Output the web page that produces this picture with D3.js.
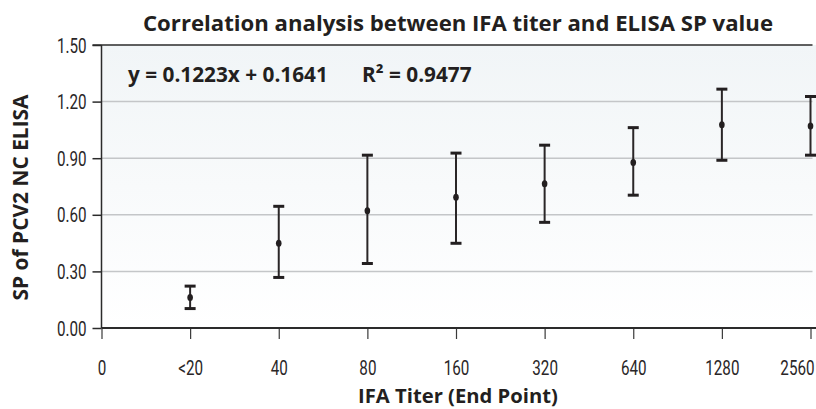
<!DOCTYPE html>
<html>
<head>
<meta charset="utf-8">
<script src="https://cdn.jsdelivr.net/npm/d3@7"></script>
<style>
  html, body { margin: 0; padding: 0; background: #ffffff; }
  svg { display: block; }
  .tick-label { font-family: "Roboto", "Liberation Sans", sans-serif; font-weight: 400; fill: #2a2627; }
  .bold { font-family: "Open Sans", "Lato", sans-serif; font-weight: 700; fill: #231f20; }
</style>
</head>
<body>
<svg id="chart" width="816" height="409"></svg>
<script>
// IFA titer groups (end point) and the ELISA S/P statistics for each group
const xTickLabels = ["0", "<20", "40", "80", "160", "320", "640", "1280", "2560"];
const titerGroups = ["<20", "40", "80", "160", "320", "640", "1280", "2560"];
const meanSP  = [0.162, 0.449, 0.622, 0.693, 0.764, 0.877, 1.077, 1.071];
const upperSP = [0.222, 0.645, 0.916, 0.927, 0.969, 1.062, 1.266, 1.227];
const lowerSP = [0.103, 0.268, 0.342, 0.449, 0.560, 0.704, 0.889, 0.916];
const yTickValues = [0, 0.3, 0.6, 0.9, 1.2, 1.5];

// linear regression summary
const slope = 0.1223;
const intercept = 0.1641;
const rSquared = 0.9477;

const svg = d3.select("#chart");
const W = 816, H = 409;
const margin = { left: 101.5, right: 5.5, top: 45, bottom: 81 };
const plotRight = W - margin.right;
const plotBottom = H - margin.bottom;

const x = d3.scaleLinear().domain([0, xTickLabels.length - 1]).range([margin.left, plotRight]);
const y = d3.scaleLinear().domain([0, 1.5]).range([plotBottom, margin.top]);

// condensed look for the tick numerals
const SX = 0.78;
const tickFont = 19.5;

// background gradient of the plotting area
const defs = svg.append("defs");
const grad = defs.append("linearGradient")
  .attr("id", "bg").attr("x1", 0).attr("y1", 0).attr("x2", 0).attr("y2", 1);
grad.append("stop").attr("offset", "0%").attr("stop-color", "#f1f5f7");
grad.append("stop").attr("offset", "100%").attr("stop-color", "#ffffff");

svg.append("rect")
  .attr("x", margin.left).attr("y", margin.top)
  .attr("width", W - margin.left).attr("height", plotBottom - margin.top)
  .attr("fill", "url(#bg)");

// horizontal grid lines
svg.append("g")
  .selectAll("line")
  .data(yTickValues.filter(v => v > 0 && v < 1.5))
  .join("line")
  .attr("x1", margin.left).attr("x2", plotRight + 2)
  .attr("y1", d => y(d)).attr("y2", d => y(d))
  .attr("stroke", "#c4c6c8").attr("stroke-width", 1.5);

// top border line at the maximum of the scale
svg.append("line")
  .attr("x1", margin.left - 9).attr("x2", plotRight + 2)
  .attr("y1", y(1.5)).attr("y2", y(1.5))
  .attr("stroke", "#2b2b2b").attr("stroke-width", 1.5);

// y axis
const yAxis = d3.axisLeft(y)
  .tickValues(yTickValues)
  .tickFormat(d3.format(".2f"))
  .tickSize(9)
  .tickPadding(6);
const yG = svg.append("g")
  .attr("transform", `translate(${margin.left},0)`)
  .call(yAxis);
yG.select(".domain").remove();
yG.selectAll(".tick line").attr("stroke", "#2b2b2b").attr("stroke-width", 1.5);
yG.selectAll(".tick text")
  .attr("class", "tick-label")
  .attr("font-size", tickFont)
  .attr("x", -15 / SX)
  .attr("dy", "0.36em")
  .attr("transform", `scale(${SX},1)`);
svg.append("line")
  .attr("x1", margin.left).attr("x2", margin.left)
  .attr("y1", y(1.5)).attr("y2", plotBottom)
  .attr("stroke", "#2b2b2b").attr("stroke-width", 1.5);

// x axis
const xAxis = d3.axisBottom(x)
  .tickValues(d3.range(xTickLabels.length))
  .tickFormat(i => xTickLabels[i])
  .tickSize(11)
  .tickPadding(22);
const xG = svg.append("g")
  .attr("transform", `translate(0,${plotBottom})`)
  .call(xAxis);
xG.select(".domain").remove();
xG.selectAll(".tick line").attr("stroke", "#3a3a3a").attr("stroke-width", 1.2);
xG.selectAll(".tick text")
  .attr("class", "tick-label")
  .attr("font-size", tickFont)
  .attr("transform", `scale(${SX},1)`);
// keep the last label inside the canvas
xG.selectAll(".tick").each(function (i) {
  const t = d3.select(this).select("text");
  const w = t.node().getComputedTextLength() * SX;
  const overflow = x(i) + w / 2 - (W - 2);
  if (overflow > 0) t.attr("x", -overflow / SX);
});
svg.append("line")
  .attr("x1", margin.left).attr("x2", W)
  .attr("y1", plotBottom).attr("y2", plotBottom)
  .attr("stroke", "#2b2b2b").attr("stroke-width", 2);

// error bars
const bars = svg.append("g")
  .selectAll("g")
  .data(titerGroups.map((g, i) => ({ g, i: i + 1, mean: meanSP[i], hi: upperSP[i], lo: lowerSP[i] })))
  .join("g");
bars.append("line")
  .attr("x1", d => x(d.i)).attr("x2", d => x(d.i))
  .attr("y1", d => y(d.hi)).attr("y2", d => y(d.lo))
  .attr("stroke", "#2a2627").attr("stroke-width", 2);
const capW = 11;
bars.append("line")
  .attr("x1", d => x(d.i) - capW / 2).attr("x2", d => x(d.i) + capW / 2)
  .attr("y1", d => y(d.hi)).attr("y2", d => y(d.hi))
  .attr("stroke", "#231f20").attr("stroke-width", 3);
bars.append("line")
  .attr("x1", d => x(d.i) - capW / 2).attr("x2", d => x(d.i) + capW / 2)
  .attr("y1", d => y(d.lo)).attr("y2", d => y(d.lo))
  .attr("stroke", "#231f20").attr("stroke-width", 3);
bars.append("ellipse")
  .attr("cx", d => x(d.i)).attr("cy", d => y(d.mean))
  .attr("rx", 2.8).attr("ry", 3.5)
  .attr("fill", "#231f20");

// shrink or grow a text so that it spans a given width
function fitWidth(sel, target) {
  const node = sel.node();
  const fs = parseFloat(sel.attr("font-size"));
  const w = node.getComputedTextLength();
  sel.attr("font-size", (fs * target / w).toFixed(2));
}

// title
const title = svg.append("text")
  .attr("class", "bold")
  .attr("x", 458).attr("y", 30.5)
  .attr("text-anchor", "middle")
  .attr("font-size", 20)
  .text("Correlation analysis between IFA titer and ELISA SP value");
fitWidth(title, 630);

// regression equation and R²
const eq = svg.append("text")
  .attr("class", "bold")
  .attr("x", 128).attr("y", 81.5)
  .attr("font-size", 18)
  .text(`y = ${slope}x + ${intercept}`);
fitWidth(eq, 200);
svg.append("text")
  .attr("class", "bold")
  .attr("x", 362).attr("y", 81.5)
  .attr("font-size", eq.attr("font-size"))
  .text(`R² = ${rSquared}`);

// axis titles
const xTitle = svg.append("text")
  .attr("class", "bold")
  .attr("x", 458).attr("y", 403)
  .attr("text-anchor", "middle")
  .attr("font-size", 17)
  .text("IFA Titer (End Point)");
fitWidth(xTitle, 200);

const yTitle = svg.append("text")
  .attr("class", "bold")
  .attr("transform", "translate(28,197.5) rotate(-90)")
  .attr("text-anchor", "middle")
  .attr("font-size", 15)
  .text("SP of PCV2 NC ELISA");
fitWidth(yTitle, 206);
</script>
</body>
</html>
